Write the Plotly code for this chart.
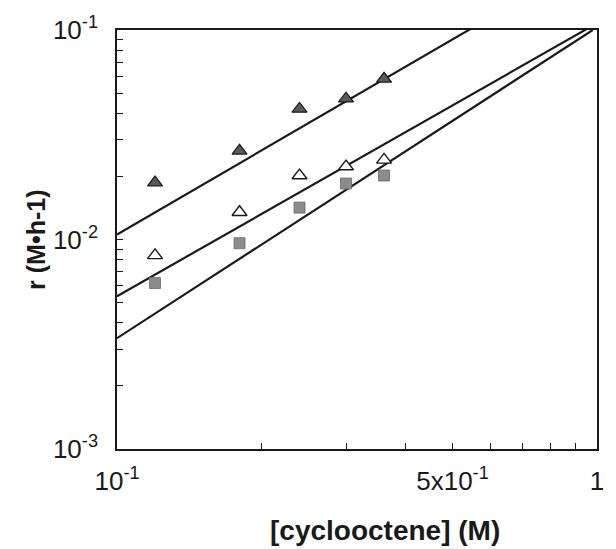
import plotly.graph_objects as go

# Data (log-log plot)
conc = [0.12, 0.18, 0.24, 0.30, 0.36]
rate_filled_tri = [0.0187, 0.0265, 0.042, 0.047, 0.0585]
rate_open_tri = [0.0084, 0.0135, 0.0202, 0.0223, 0.024]
rate_square = [0.0062, 0.0096, 0.0142, 0.0185, 0.0202]

# Fitted lines (endpoints)
fit_x_top = [0.1, 1.0]
fit_y_top = [0.01057, 0.227]
fit_x_mid = [0.1, 0.98]
fit_y_mid = [0.00536, 0.105]
fit_x_low = [0.1, 0.98]
fit_y_low = [0.00338, 0.1]

x_tickvals = [0.1, 0.2, 0.3, 0.4, 0.5, 0.6, 0.7, 0.8, 0.9, 1.0]
x_ticktext = ["10<sup>-1</sup>", "", "", "", "5x10<sup>-1</sup>", "", "", "", "", "1"]
y_tickvals = [0.001 * k for k in range(1, 10)] + [0.01 * k for k in range(1, 10)] + [0.1]
y_ticktext = ["10<sup>-3</sup>"] + [""] * 8 + ["10<sup>-2</sup>"] + [""] * 8 + ["10<sup>-1</sup>"]

FONT = "Liberation Sans, Arial, sans-serif"
LINE = "#1a1a1a"

fig = go.Figure()
for fx, fy in [(fit_x_top, fit_y_top), (fit_x_mid, fit_y_mid), (fit_x_low, fit_y_low)]:
    fig.add_trace(go.Scatter(x=fx, y=fy, mode="lines",
                             line=dict(color=LINE, width=2.2), showlegend=False,
                             hoverinfo="skip"))

fig.add_trace(go.Scatter(x=conc, y=rate_filled_tri, mode="markers", showlegend=False,
                         marker=dict(symbol="triangle-up", size=13, color="#5a5a5a",
                                     line=dict(color="#1a1a1a", width=1.2))))
fig.add_trace(go.Scatter(x=conc, y=rate_open_tri, mode="markers", showlegend=False,
                         marker=dict(symbol="triangle-up", size=13, color="white",
                                     line=dict(color="#1a1a1a", width=1.4))))
fig.add_trace(go.Scatter(x=conc, y=rate_square, mode="markers", showlegend=False,
                         marker=dict(symbol="square", size=11, color="#8c8c8c",
                                     line=dict(color="#6a6a6a", width=0.8))))

axis_common = dict(showgrid=False, zeroline=False, showline=True, linecolor=LINE,
                   linewidth=1.6, mirror=True, ticks="inside", ticklen=6,
                   tickwidth=1.2, tickcolor=LINE,
                   tickfont=dict(family=FONT, size=26, color="#1a1a1a"))

fig.update_xaxes(type="log", range=[-1, 0], tickmode="array",
                 tickvals=x_tickvals, ticktext=x_ticktext, ticklabelstandoff=8,
                 **axis_common)
fig.update_yaxes(type="log", range=[-3, -1], tickmode="array",
                 tickvals=y_tickvals, ticktext=y_ticktext, ticklabelstandoff=12,
                 **axis_common)

fig.update_layout(
    width=616, height=549,
    margin=dict(l=117, r=13, t=27, b=100),
    paper_bgcolor="white", plot_bgcolor="white",
    annotations=[
        dict(text="<b>[cyclooctene] (M)</b>", xref="paper", yref="paper",
             x=0.558, y=-0.195, xanchor="center", yanchor="middle", showarrow=False,
             font=dict(family=FONT, size=28, color="#1a1a1a")),
        dict(text="<b>r (M•h-1)</b>", xref="paper", yref="paper",
             x=-0.17, y=0.5, xanchor="center", yanchor="middle", showarrow=False,
             textangle=-90, font=dict(family=FONT, size=25, color="#1a1a1a")),
    ],
)

fig.write_html("out.html")
